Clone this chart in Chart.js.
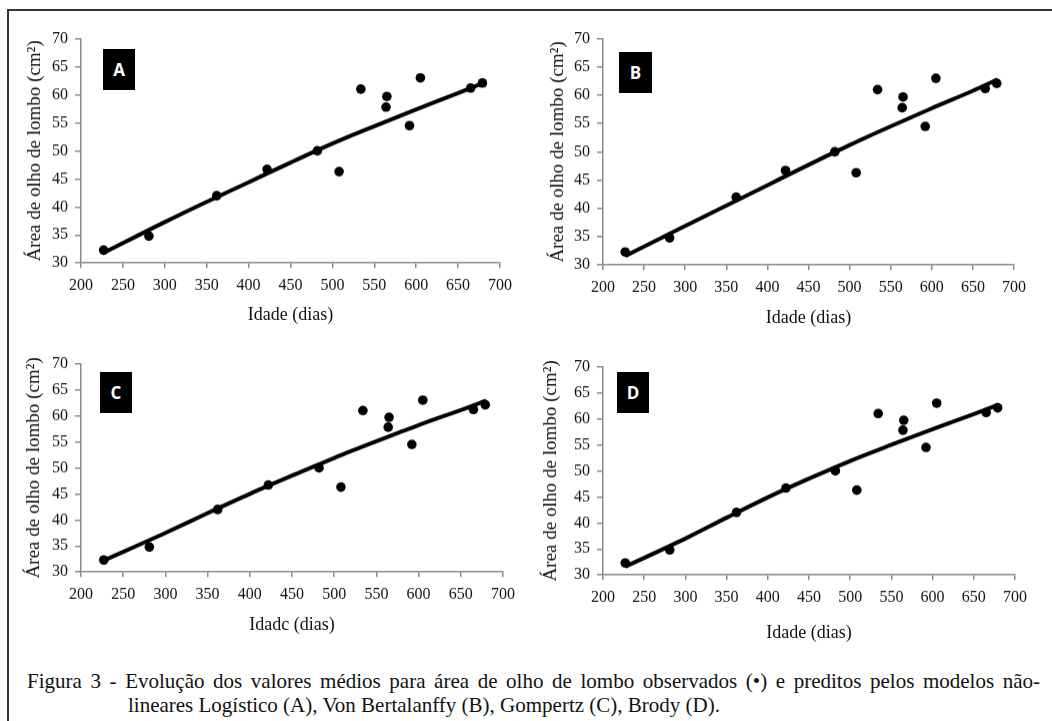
<!DOCTYPE html>
<html>
<head>
<meta charset="utf-8">
<script src="https://cdn.jsdelivr.net/npm/chart.js@4.4.1/dist/chart.umd.min.js"></script>
<style>
  html, body { margin:0; padding:0; background:#fff; }
  body { width:1052px; height:721px; position:relative; overflow:hidden; }
  #frame { position:absolute; left:7px; top:9px; width:1100px; height:800px; border-left:2px solid #333; border-top:2px solid #333; }
  .cv { position:absolute; }
  .tag { position:absolute; background:#000; color:#fff; font-family:"Open Sans", sans-serif; font-weight:700; font-size:17px; display:flex; align-items:center; justify-content:center; }
  .cap { position:absolute; font-family:"Liberation Serif","Times New Roman",serif; font-size:21px; line-height:21px; color:#111; white-space:nowrap; }
  #cap1 { left:27px; top:671px; width:1013px; text-align:justify; text-align-last:justify; white-space:normal; }
  #cap2 { left:128px; top:695px; }
</style>
</head>
<body>
<div id="frame"></div>

<div class="tag" style="left:103px;top:49px;width:32px;height:41px;">A</div>
<div class="tag" style="left:619px;top:52px;width:33px;height:41px;">B</div>
<div class="tag" style="left:100px;top:372px;width:32px;height:41px;">C</div>
<div class="tag" style="left:617px;top:372px;width:32px;height:41px;">D</div>

<div class="cap" id="cap1">Figura 3 - Evolução dos valores médios para área de olho de lombo observados (•) e preditos pelos modelos não-</div>
<div class="cap" id="cap2">lineares Logístico (A), Von Bertalanffy (B), Gompertz (C), Brody (D).</div>

<script>
// Observed means
const obsAge  = [227, 281, 362, 422, 482, 508, 534, 564, 565, 592, 605, 665, 679];
const obsArea = [32.3, 34.8, 42.0, 46.7, 50.0, 46.3, 61.0, 57.8, 59.7, 54.5, 63.0, 61.2, 62.1];

// Predicted curves
const predAge = [227, 300, 350, 400, 450, 500, 550, 600, 650, 680];
const predA = [31.8, 37.3, 40.9, 44.4, 47.9, 51.3, 54.4, 57.4, 60.3, 62.1];
const predB = [31.6, 36.9, 40.5, 44.1, 47.7, 51.2, 54.5, 57.7, 60.8, 62.8];
const predC = [32.2, 37.5, 41.3, 45.0, 48.5, 51.9, 55.1, 58.2, 61.1, 62.9];
const predD = [31.6, 37.0, 41.0, 44.9, 48.5, 51.9, 55.0, 58.0, 60.9, 62.7];

const yTicks = [30, 35, 40, 45, 50, 55, 60, 65, 70];
const xTicks = [200, 250, 300, 350, 400, 450, 500, 550, 600, 650, 700];

const yTitle = "Área de olho de lombo (cm²)";
const xTitles = ["Idade (dias)", "Idade (dias)", "Idadc (dias)", "Idade (dias)"];

// Panel geometry: plot area and title centres
const panels = [
  {L:81,  R:500,  T:38,  B:263, yTX:35,  xTY:315, pred:predA},
  {L:603, R:1014, T:38,  B:265, yTX:558, xTY:318, pred:predB},
  {L:81,  R:503,  T:363, B:572, yTX:34,  xTY:625, pred:predC},
  {L:603, R:1015, T:366, B:575, yTX:551, xTY:633, pred:predD},
];

const SERIF = 'Liberation Serif';
Chart.defaults.font.family = SERIF;
Chart.defaults.color = '#111';

const axisCol = '#8a8a8a';
const yTitleSize = 19, xTitleSize = 18;

panels.forEach((p, i) => {
  const yW = p.L - (p.yTX - yTitleSize*1.2/2);
  const xH = p.xTY + xTitleSize*1.2/2 - p.B;
  const cl = Math.floor(p.L - yW - 4), ct = p.T - 16;
  const cw = (p.R + 22) - cl, ch = (p.B + xH + 4) - ct;
  const cv = document.createElement('canvas');
  cv.className = 'cv';
  cv.style.left = cl + 'px'; cv.style.top = ct + 'px';
  cv.width = cw; cv.height = ch;
  cv.style.width = cw + 'px'; cv.style.height = ch + 'px';
  document.body.appendChild(cv);

  new Chart(cv, {
    data: {
      datasets: [
        {
          type: 'line',
          data: predAge.map((a, k) => ({x:a, y:p.pred[k]})),
          borderColor: '#000',
          borderWidth: 4,
          pointRadius: 0,
          cubicInterpolationMode: 'monotone',
          fill: false,
          order: 2
        },
        {
          type: 'scatter',
          data: obsAge.map((a, k) => ({x:a, y:obsArea[k]})),
          backgroundColor: '#000',
          borderColor: '#000',
          pointRadius: 4.8,
          borderWidth: 0,
          order: 1
        }
      ]
    },
    options: {
      responsive: false,
      animation: false,
      events: [],
      layout: {
        padding: {
          left: p.L - cl - yW,
          top: p.T - ct,
          right: cl + cw - p.R,
          bottom: ct + ch - (p.B + xH)
        }
      },
      plugins: { legend: {display:false}, tooltip: {enabled:false} },
      scales: {
        x: {
          type: 'linear', min: 200, max: 700,
          afterBuildTicks: s => { s.ticks = xTicks.map(v => ({value:v})); },
          afterFit: s => { s.height = xH; },
          grid: { drawOnChartArea:false, drawTicks:true, tickLength:5, color:axisCol, lineWidth:1.5 },
          border: { display:true, color:axisCol, width:1.5 },
          ticks: { color:'#111', font:{family:SERIF, size:16}, padding:8, maxRotation:0 },
          title: { display:true, text:xTitles[i], color:'#111', padding:0,
                   font:{family:SERIF, size:xTitleSize} }
        },
        y: {
          type: 'linear', min: 30, max: 70,
          afterBuildTicks: s => { s.ticks = yTicks.map(v => ({value:v})); },
          afterFit: s => { s.width = yW; },
          grid: { drawOnChartArea:false, drawTicks:true, tickLength:6, color:axisCol, lineWidth:1.5 },
          border: { display:true, color:axisCol, width:1.5 },
          ticks: { color:'#111', font:{family:SERIF, size:16}, padding:7 },
          title: { display:true, text:yTitle, color:'#111', padding:0,
                   font:{family:SERIF, size:yTitleSize} }
        }
      }
    }
  });
});
</script>
</body>
</html>
